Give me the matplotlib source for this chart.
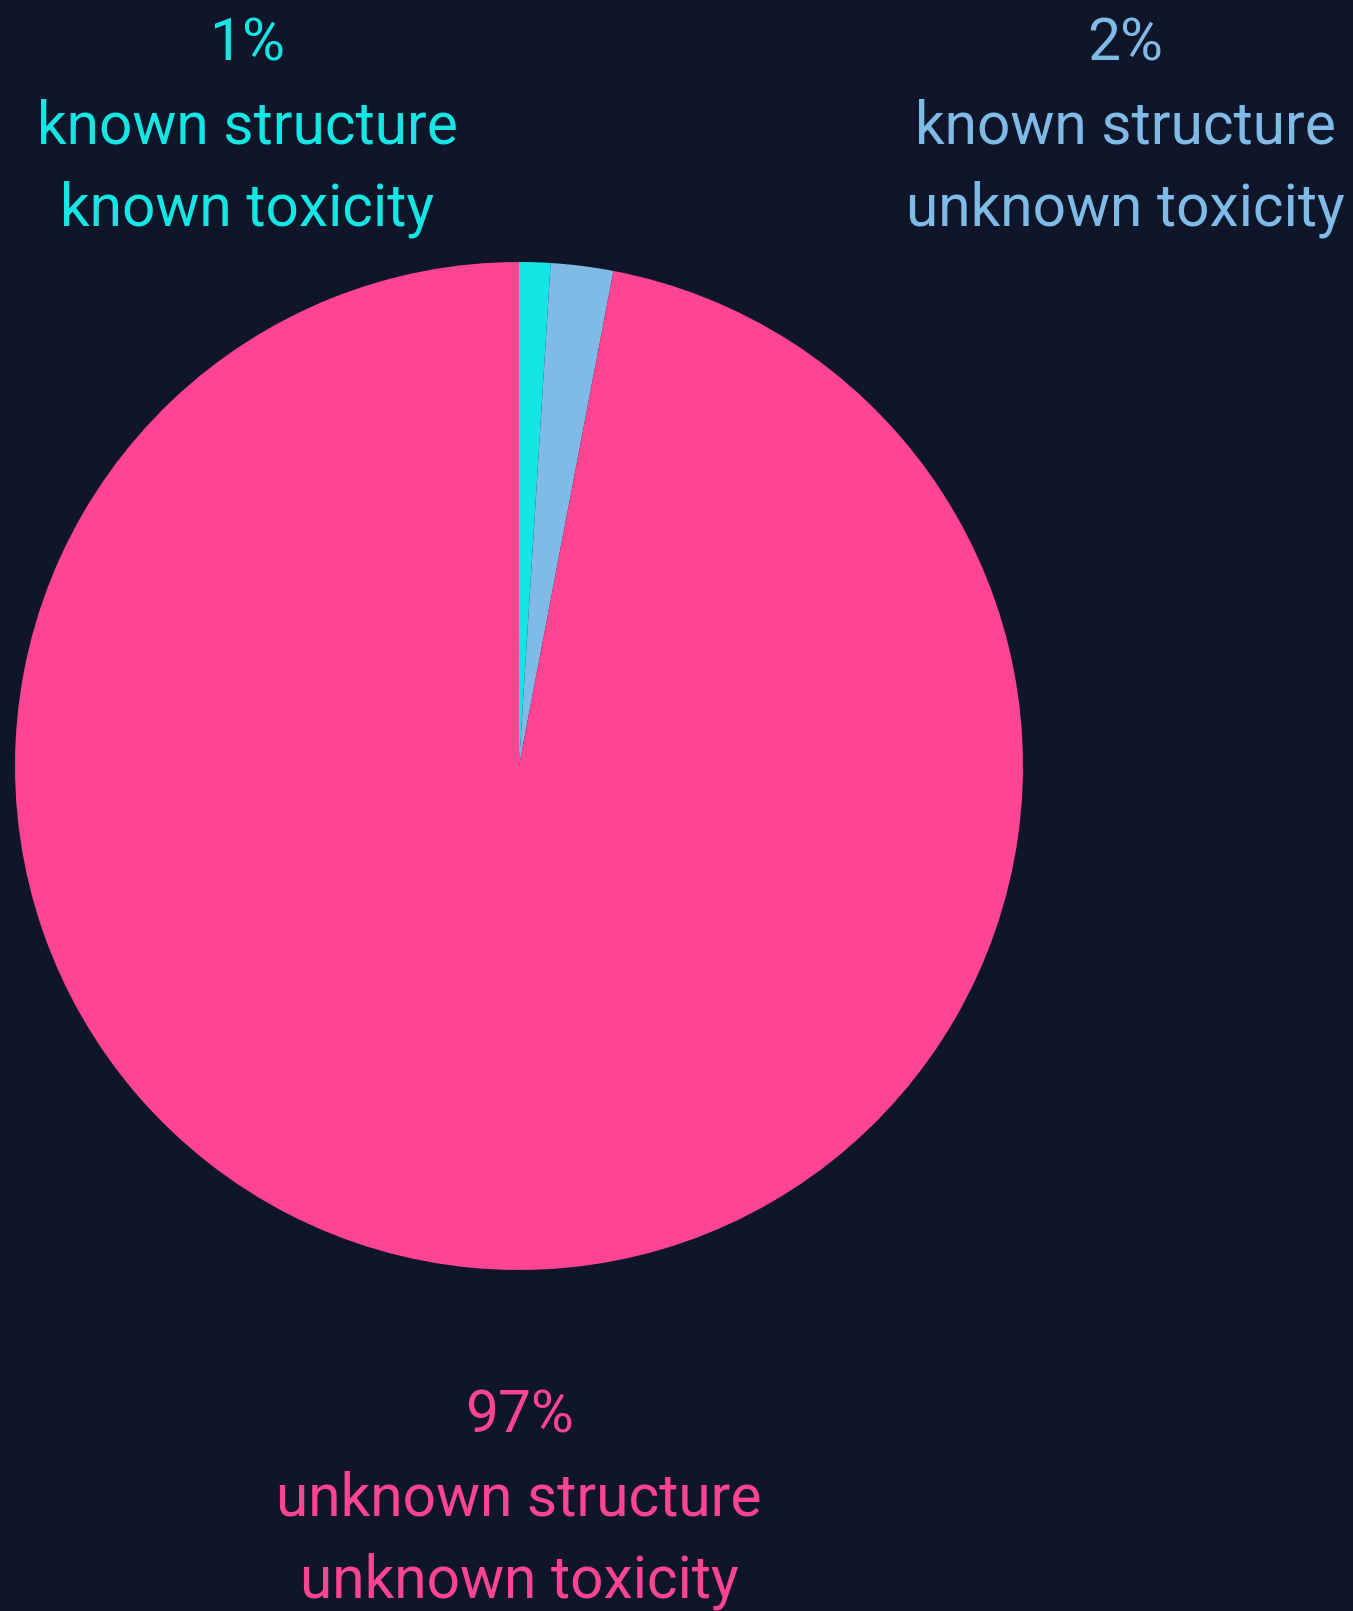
import matplotlib.pyplot as plt

# Share of compounds by what is known about them
categories = ['known structure\nknown toxicity',
              'known structure\nunknown toxicity',
              'unknown structure\nunknown toxicity']
shares = [1, 2, 97]
colors = ['#14e6e6', '#80bbe8', '#ff4494']
bg = '#0f1629'

plt.rcParams['font.family'] = ['Roboto', 'DejaVu Sans']

fig = plt.figure(figsize=(13.53, 16.11), dpi=100, facecolor=bg)

# Pie area (pixels: x 15..1023, y 262..1270 from top)
W, H = 1353, 1611
ax = fig.add_axes([15 / W, (H - 1270) / H, 1008 / W, 1008 / H])
ax.set_facecolor(bg)
ax.pie(shares, colors=colors, startangle=90, counterclock=False,
       radius=1.0, wedgeprops={'linewidth': 0})
ax.set_xlim(-1, 1)
ax.set_ylim(-1, 1)
ax.set_aspect('equal')
ax.axis('off')

# Label blocks: percentage on top, category below
label_pos = [(247, 127), (1125, 127), (519, 1499)]
for share, cat, col, (px, py) in zip(shares, categories, colors, label_pos):
    fig.text(px / W, 1 - py / H, f'{share}%\n{cat}', color=col,
             fontsize=42.2, ha='center', va='center', linespacing=1.57)

fig.savefig('out.png', dpi=100, facecolor=bg)
